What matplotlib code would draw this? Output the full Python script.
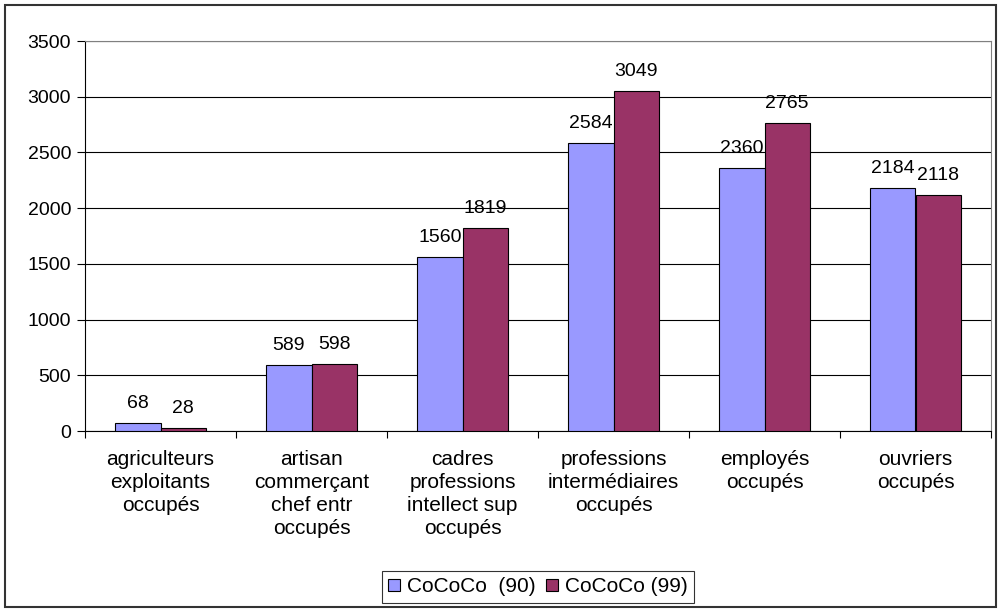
import numpy as np
import matplotlib.pyplot as plt
from matplotlib.patches import Rectangle

categories = ["agriculteurs\nexploitants\noccupés",
              "artisan\ncommerçant\nchef entr\noccupés",
              "cadres\nprofessions\nintellect sup\noccupés",
              "professions\nintermédiaires\noccupés",
              "employés\noccupés",
              "ouvriers\noccupés"]
serie_90 = [68, 589, 1560, 2584, 2360, 2184]
serie_99 = [28, 598, 1819, 3049, 2765, 2118]
labels = ["CoCoCo  (90)", "CoCoCo (99)"]

plt.rcParams['font.family'] = ['Liberation Sans', 'DejaVu Sans']
fig = plt.figure(figsize=(10.01, 6.10), dpi=100)
ax = fig.add_axes([85/1001, 1-431/610, (991-85)/1001, (431-41)/610])

x = np.arange(len(categories))
w = 0.3
b1 = ax.bar(x - w/2, serie_90, w, color='#9999FF', edgecolor='black', linewidth=0.8, label=labels[0], zorder=3)
b2 = ax.bar(x + w/2, serie_99, w, color='#993366', edgecolor='black', linewidth=0.8, label=labels[1], zorder=3)
for bars, vals in ((b1, serie_90), (b2, serie_99)):
	for r, v in zip(bars, vals):
		ax.annotate(str(v), (r.get_x() + r.get_width()/2, v), xytext=(0, 8),
			textcoords='offset points', ha='center', va='bottom', fontsize=14)

ax.set_xlim(-0.5, len(categories) - 0.5)
ax.set_ylim(0, 3500)
ax.set_yticks(range(0, 3501, 500))
ax.yaxis.grid(True, color='black', linewidth=0.8, zorder=0)
ax.set_axisbelow(True)
ax.set_xticks(np.arange(-0.5, len(categories), 1.0))
ax.set_xticklabels([])
ax.set_xticks(x, minor=True)
ax.set_xticklabels(categories, minor=True, fontsize=15, linespacing=1.25)
ax.tick_params(axis='x', which='minor', length=0, pad=14)
ax.tick_params(axis='x', which='major', length=5, direction='out')
ax.tick_params(axis='y', length=6, labelsize=14, pad=4)
for s in ('top', 'right'):
	ax.spines[s].set_color('#808080')
ax.spines['left'].set_color('black')
ax.spines['bottom'].set_color('black')

leg = fig.legend(loc='center', bbox_to_anchor=(538/1001, 1-587/610), ncol=2, fontsize=15,
	frameon=True, fancybox=False, edgecolor='black', handlelength=0.55, handleheight=0.55,
	handletextpad=0.35, columnspacing=0.5, borderpad=0.3)
leg.get_frame().set_linewidth(0.8)

fig.patches.append(Rectangle((5/1001, 3/610), 991/1001, 602/610, transform=fig.transFigure,
	fill=False, edgecolor='#333333', linewidth=1.5))
fig.savefig('out.png', dpi=100)
